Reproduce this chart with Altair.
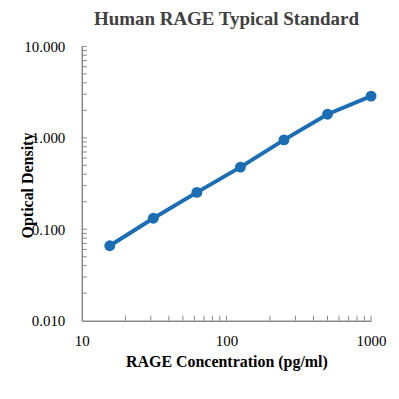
import altair as alt
import pandas as pd

conc = [15.6, 31.25, 62.5, 125, 250, 500, 1000]
od = [0.066, 0.132, 0.253, 0.478, 0.95, 1.81, 2.86]

x_minor = [20, 30, 40, 50, 60, 70, 80, 90, 100, 200, 300, 400, 500, 600, 700, 800, 900, 1000]
y_minor = [0.02, 0.03, 0.04, 0.05, 0.06, 0.07, 0.08, 0.09, 0.1,
           0.2, 0.3, 0.4, 0.5, 0.6, 0.7, 0.8, 0.9, 1,
           2, 3, 4, 5, 6, 7, 8, 9, 10]

W, H = 290, 275
BLUE = "#1b6db4"
SERIF = "Liberation Serif"

df = pd.DataFrame({"conc": conc, "od": od})
dx = pd.DataFrame({"v": x_minor})
dy = pd.DataFrame({"v": y_minor})

xscale = alt.Scale(type="log", domain=[10, 1000], nice=False)
yscale = alt.Scale(type="log", domain=[0.01, 10], nice=False)

xaxis = alt.Axis(values=[10, 100, 1000], format="d", grid=False, ticks=False,
                 labelFont=SERIF, labelFontSize=15, labelColor="#000",
                 labelPadding=13, title="RAGE Concentration (pg/ml)",
                 titleFont=SERIF, titleFontSize=16, titleFontWeight="bold",
                 titleColor="#000", titlePadding=5, domainColor="#888",
                 domainWidth=1.5, labelFlush=False)
yaxis = alt.Axis(values=[0.01, 0.1, 1, 10], format=".3f", grid=False, ticks=False,
                 labelFont=SERIF, labelFontSize=15, labelColor="#000",
                 labelPadding=17, title="Optical Density",
                 titleFont=SERIF, titleFontSize=16, titleFontWeight="bold",
                 titleColor="#000", titleX=-46, titleY=139, domainColor="#888",
                 domainWidth=1.5, labelFlush=False)

line = alt.Chart(df).mark_line(color=BLUE, strokeWidth=4).encode(
    x=alt.X("conc:Q", scale=xscale, axis=xaxis),
    y=alt.Y("od:Q", scale=yscale, axis=yaxis),
)
pts = alt.Chart(df).mark_circle(color=BLUE, size=120, opacity=1).encode(
    x=alt.X("conc:Q", scale=xscale),
    y=alt.Y("od:Q", scale=yscale),
)
xt = alt.Chart(dx).mark_rule(color="#888", strokeWidth=1).encode(
    x=alt.X("v:Q", scale=xscale),
    y=alt.value(H), y2=alt.value(H - 5),
)
yt = alt.Chart(dy).mark_rule(color="#888", strokeWidth=1).encode(
    y=alt.Y("v:Q", scale=yscale),
    x=alt.value(0), x2=alt.value(5),
)

chart = alt.layer(xt, yt, line, pts).properties(
    width=W, height=H,
    title=alt.TitleParams("Human RAGE Typical Standard", font=SERIF, fontSize=19,
                          fontWeight="bold", color="#404040", offset=10),
    autosize=alt.AutoSizeParams(type="none"),
    padding={"left": 74, "top": 38, "right": 20, "bottom": 60},
).configure_view(stroke=None)

chart.save("out.html", embed_options={"renderer": "svg", "actions": False})
